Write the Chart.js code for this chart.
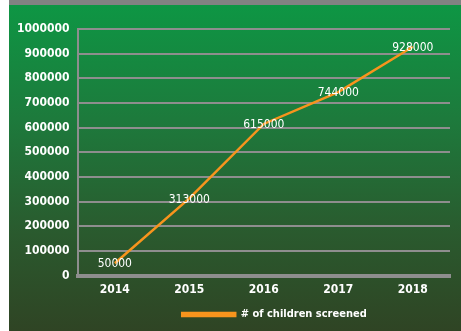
<!DOCTYPE html>
<html>
<head>
<meta charset="utf-8">
<script src="https://cdn.jsdelivr.net/npm/chart.js@4"></script>
<style>
    body { margin: 0; background: #fff; }
    #topBar { position: absolute; left: 9px; top: 0; width: 452px; height: 5px; background: #828282; }
    #panel {
        position: absolute; left: 9px; top: 5px; width: 452px; height: 326px;
        background: linear-gradient(to bottom, #0e9644 0%, #1d7a3c 35%, #2a5a2e 70%, #2f4424 100%);
    }
</style>
</head>
<body>
<div id="topBar"></div>
<div id="panel"><canvas id="grafico" width="452" height="326"></canvas></div>
<script>
// Dados do gráfico
const anos = ['2014', '2015', '2016', '2017', '2018'];
const criancasTriadas = [50000, 313000, 615000, 744000, 928000];
const rotuloSerie = '# of children screened';

const fonteBase = "'Liberation Sans Narrow', 'DejaVu Sans Condensed', sans-serif";

// Rótulos de valor em cima de cada ponto
const rotulosPlugin = {
    id: 'rotulos',
    afterLayout(chart) {
        // legenda do original fica um pouco à direita do centro
        chart.legend.left += 45;
        chart.legend.right += 45;
    },
    afterDatasetsDraw(chart) {
        const ctx = chart.ctx;
        const meta = chart.getDatasetMeta(0);
        ctx.save();
        ctx.font = '12px ' + fonteBase;
        ctx.fillStyle = '#ffffff';
        ctx.textAlign = 'center';
        ctx.textBaseline = 'middle';
        meta.data.forEach((pt, i) => {
            ctx.fillText(String(criancasTriadas[i]), pt.x, pt.y + 1);
        });
        ctx.restore();
    }
};

new Chart(document.getElementById('grafico'), {
    type: 'line',
    data: {
        labels: anos,
        datasets: [{
            label: rotuloSerie,
            data: criancasTriadas,
            borderColor: '#f7941d',
            backgroundColor: '#f7941d',
            borderWidth: 2.5,
            pointRadius: 0,
            tension: 0
        }]
    },
    options: {
        responsive: false,
        animation: false,
        layout: { padding: { left: 0, right: 11, top: 24, bottom: 1 } },
        plugins: {
            legend: {
                position: 'bottom',
                labels: {
                    color: '#ffffff',
                    font: { family: fonteBase, size: 11, weight: 'bold' },
                    boxWidth: 53,
                    boxHeight: 3,
                    padding: 5
                }
            },
            tooltip: { enabled: false }
        },
        scales: {
            x: {
                offset: true,
                grid: { display: false, drawTicks: false },
                border: { color: '#8e8e8e', width: 4 },
                ticks: {
                    color: '#ffffff',
                    font: { family: fonteBase, size: 12, weight: 'bold' },
                    padding: 7
                }
            },
            y: {
                min: 0,
                max: 1000000,
                grid: { color: '#8e8e8e', lineWidth: 2, drawTicks: false },
                border: { color: '#8e8e8e', width: 2 },
                ticks: {
                    stepSize: 100000,
                    color: '#ffffff',
                    font: { family: fonteBase, size: 12, weight: 'bold' },
                    padding: 8,
                    callback: v => String(v)
                }
            }
        }
    },
    plugins: [rotulosPlugin]
});
</script>
</body>
</html>
